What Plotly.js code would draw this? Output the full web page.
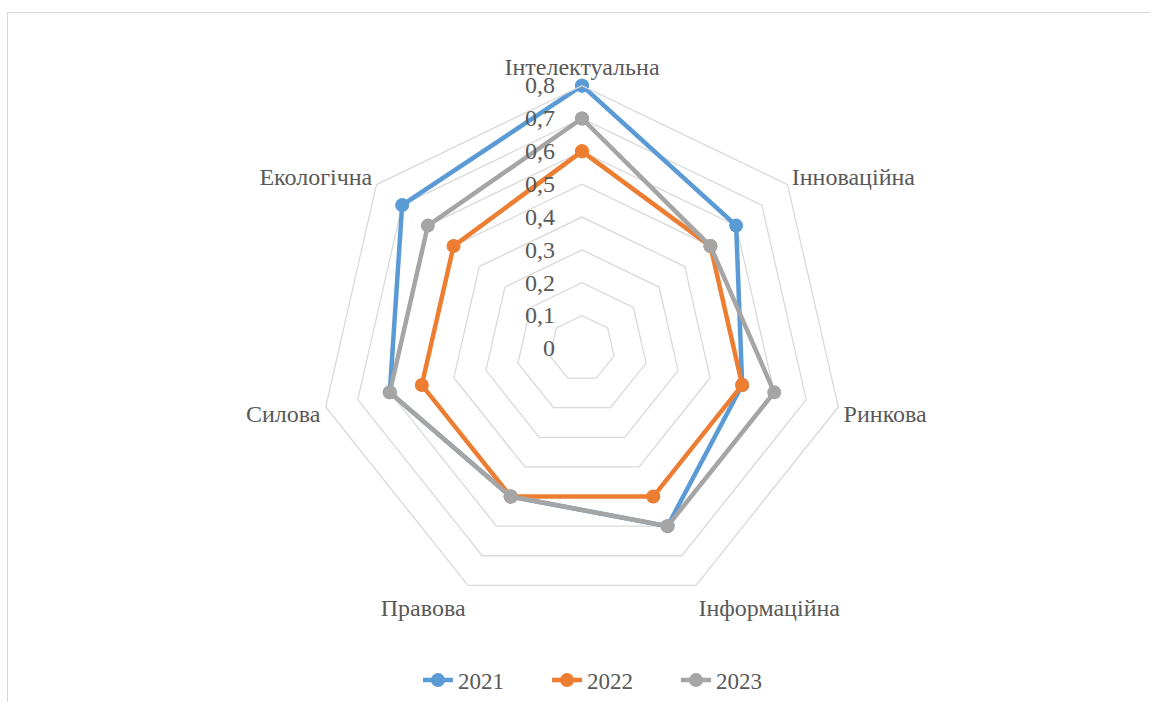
<!DOCTYPE html>
<html>
<head>
<meta charset="utf-8">
<script src="https://cdn.plot.ly/plotly-3.0.1.min.js"></script>
<style>
html,body{margin:0;padding:0;background:#fff;}
#wrap{position:relative;width:1150px;height:702px;}
#chart{width:1150px;height:702px;}
#frame{position:absolute;left:7px;top:12px;width:1150px;height:700px;border:1px solid #d9d9d9;pointer-events:none;box-sizing:border-box;}
</style>
</head>
<body>
<div id="wrap"><div id="chart"></div><div id="frame"></div></div>
<script>
const categories = ["Інтелектуальна","Інноваційна","Ринкова","Інформаційна","Правова","Силова","Екологічна"];
const years = ["2021","2022","2023"];
const v2021 = [0.8, 0.6, 0.5, 0.6, 0.5, 0.6, 0.7];
const v2022 = [0.6, 0.5, 0.5, 0.5, 0.5, 0.5, 0.5];
const v2023 = [0.7, 0.5, 0.6, 0.6, 0.5, 0.6, 0.6];
const colors = ["#5B9BD5","#ED7D31","#A5A5A5"];
const series = [v2021, v2022, v2023];

const traces = series.map((vals, i) => ({
  type: "scatterpolar",
  mode: "lines+markers",
  name: years[i],
  r: vals.concat([vals[0]]),
  theta: categories.concat([categories[0]]),
  line: {color: colors[i], width: 4.5},
  marker: {color: colors[i], size: 14},
  hoverinfo: "skip"
}));

const FAM = "Liberation Serif";
const catFont = {family: FAM, size: 24, color: "#595959"};
const tickFont = {family: FAM, size: 24, color: "#595959"};
const legFont = {family: FAM, size: 23, color: "#595959"};
const cx = 582, cy = 350, R = 264, W = 1150, H = 702;

const layout = {
  width: W, height: H,
  margin: {l: 0, r: 0, t: 0, b: 0},
  paper_bgcolor: "#fff",
  separators: ", ",
  font: {family: FAM, color: "#595959"},
  showlegend: true,
  legend: {orientation: "h", x: 418 / W, xanchor: "left", y: 0.027, yanchor: "middle", font: legFont,
           entrywidth: 84, entrywidthmode: "pixels", traceorder: "normal"},
  polar: {
    domain: {x: [(cx - R) / W, (cx + R) / W], y: [1 - (cy + R) / H, 1 - (cy - R) / H]},
    gridshape: "linear",
    bgcolor: "rgba(0,0,0,0)",
    radialaxis: {
      range: [0, 0.8], dtick: 0.1, tick0: 0, angle: 90, side: "counterclockwise",
      showline: false, ticks: "outside", ticklen: 18, tickcolor: "rgba(0,0,0,0)",
      gridcolor: "#d9d9d9", gridwidth: 1.3,
      tickfont: tickFont, tickformat: ".1~f", tickangle: 90
    },
    angularaxis: {
      rotation: 90, direction: "clockwise", showgrid: false,
      showline: true, linecolor: "#d9d9d9", linewidth: 1.3, ticks: "",
      tickfont: catFont
    }
  }
};

Plotly.newPlot("chart", traces, layout, {displayModeBar: false, staticPlot: true});
</script>
</body>
</html>
